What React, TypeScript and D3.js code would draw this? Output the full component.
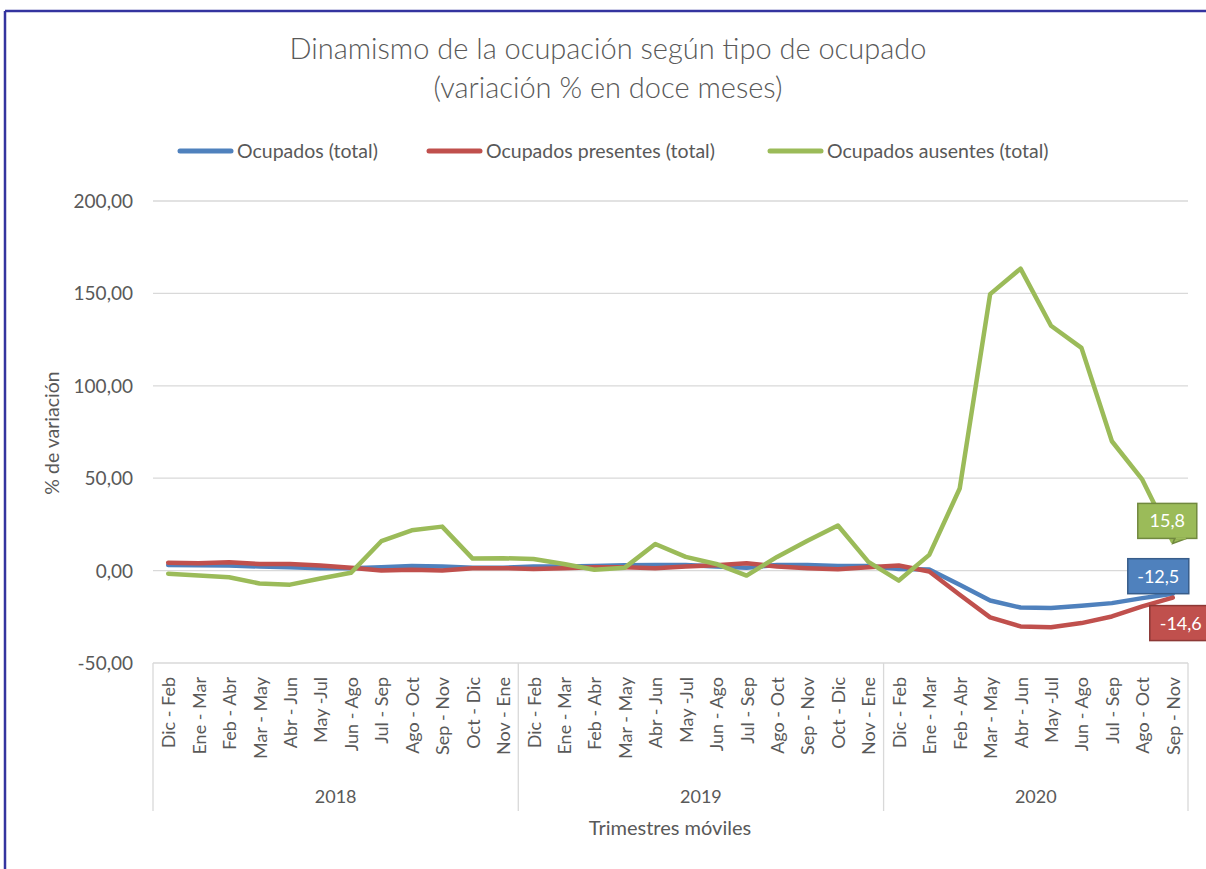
import React from "react";
import * as d3 from "d3";

const categories: string[] = [
  "Dic - Feb", "Ene - Mar", "Feb - Abr", "Mar - May", "Abr - Jun", "May -Jul",
  "Jun - Ago", "Jul - Sep", "Ago - Oct", "Sep - Nov", "Oct - Dic", "Nov - Ene",
  "Dic - Feb", "Ene - Mar", "Feb - Abr", "Mar - May", "Abr - Jun", "May -Jul",
  "Jun - Ago", "Jul - Sep", "Ago - Oct", "Sep - Nov", "Oct - Dic", "Nov - Ene",
  "Dic - Feb", "Ene - Mar", "Feb - Abr", "Mar - May", "Abr - Jun", "May -Jul",
  "Jun - Ago", "Jul - Sep", "Ago - Oct", "Sep - Nov",
];

const years: string[] = ["2018", "2019", "2020"];
const yearCounts: number[] = [12, 12, 10];

const ocupados: number[] = [
  3.0, 2.9, 2.7, 2.2, 1.8, 1.3, 1.3, 1.8, 2.5, 2.2, 1.6, 1.6,
  2.2, 2.2, 2.5, 2.9, 3.0, 3.0, 2.2, 1.6, 3.0, 3.0, 2.5, 2.5,
  0.9, 0.6, -7.7, -16.2, -20.0, -20.3, -19.0, -17.6, -14.9, -12.5,
];

const presentes: number[] = [
  4.3, 4.0, 4.5, 3.6, 3.6, 2.7, 1.6, 0.0, 0.4, 0.0, 1.3, 1.3,
  0.9, 1.3, 1.8, 1.8, 1.3, 2.2, 2.9, 4.0, 2.2, 1.3, 0.7, 1.8,
  2.8, -0.5, -13.1, -25.3, -30.2, -30.7, -28.4, -24.8, -19.4, -14.6,
];

const ausentes: number[] = [
  -1.7, -2.7, -3.6, -7.0, -7.6, -4.3, -1.2, 15.9, 21.8, 23.8, 6.5, 6.7,
  6.3, 3.6, 0.5, 1.6, 14.4, 7.4, 3.6, -2.7, 7.4, 16.2, 24.4, 4.7,
  -5.4, 8.5, 44.4, 149.6, 163.4, 132.5, 120.5, 70.0, 49.2, 15.8,
];

const seriesNames: string[] = ["Ocupados (total)", "Ocupados presentes (total)", "Ocupados ausentes (total)"];
const seriesColors: string[] = ["#4f81bd", "#c0504d", "#9bbb59"];
const labelBorders: string[] = ["#385d8a", "#8c3836", "#71893f"];
const yTicks: number[] = [-50, 0, 50, 100, 150, 200];

const W = 1206;
const H = 869;
const FONT = "Lato, 'Open Sans', sans-serif";
const TEXT = "#595959";

export default function App() {
  const left = 153;
  const right = 1188;
  const x = d3.scaleBand<number>().domain(d3.range(categories.length)).range([left, right]);
  const cx = (i: number) => (x(i) as number) + x.bandwidth() / 2;
  const y = d3.scaleLinear().domain([-50, 200]).range([663, 201]);
  const fmt = (v: number) => d3.format(".2f")(v).replace(".", ",").replace("\u2212", "-");
  const fmt1 = (v: number) => d3.format(".1f")(v).replace(".", ",").replace("\u2212", "-");

  const series = [ocupados, presentes, ausentes];
  const line = d3
    .line<number>()
    .x((_, i) => cx(i))
    .y((d) => y(d));

  const yearBounds: number[] = [0];
  yearCounts.forEach((c, i) => yearBounds.push(yearBounds[i] + c));
  const bx = (i: number) => (i >= categories.length ? right : (x(i) as number));

  const last = categories.length - 1;
  const lx = cx(last);

  const labelBoxes = [
    { s: 0, x: lx - 45, y: y(ocupados[last]) - 35, w: 61, h: 35 },
    { s: 1, x: lx - 23, y: y(presentes[last]) + 8, w: 62, h: 35 },
    { s: 2, x: lx - 35, y: y(ausentes[last]) - 38, w: 59, h: 35 },
  ];

  const legendItems = [
    { sx: 178, tx: 237 },
    { sx: 427, tx: 486 },
    { sx: 768, tx: 827 },
  ];

  return (
    <svg
      width={W}
      height={H}
      style={{ position: "absolute", left: 0, top: 0, background: "#fff" }}
      fontFamily={FONT}
    >
      <rect x={0} y={0} width={W} height={H} fill="#fff" />
      <line x1={5} y1={11} x2={W} y2={11} stroke="#34349f" strokeWidth={2.5} />
      <line x1={5} y1={11} x2={5} y2={H} stroke="#34349f" strokeWidth={2.5} />

      {/* title */}
      <text x={608} y={59} textAnchor="middle" fontSize={29} fontWeight={300} fill={TEXT}>
        Dinamismo de la ocupación según tipo de ocupado
      </text>
      <text x={608} y={98} textAnchor="middle" fontSize={29} fontWeight={300} fill={TEXT}>
        (variación % en doce meses)
      </text>

      {/* legend */}
      {legendItems.map((l, i) => (
        <g key={i}>
          <line x1={l.sx + 2} x2={l.sx + 53} y1={151} y2={151} stroke={seriesColors[i]} strokeWidth={5} strokeLinecap="round" />
          <text x={l.tx} y={158} fontSize={19.5} fill={TEXT}>
            {seriesNames[i]}
          </text>
        </g>
      ))}

      {/* gridlines */}
      {yTicks.map((t) => (
        <g key={t}>
          <line x1={left} x2={right} y1={y(t)} y2={y(t)} stroke="#d9d9d9" strokeWidth={1.3} />
          <text x={133} y={y(t) + 7} textAnchor="end" fontSize={19} fill={TEXT}>
            {fmt(t)}
          </text>
        </g>
      ))}

      {/* y title */}
      <text
        transform={`translate(59,${433}) rotate(-90)`}
        textAnchor="middle"
        fontSize={19.5}
        fill={TEXT}
      >
        % de variación
      </text>

      {/* category axis */}
      {yearBounds.map((b, i) => (
        <line key={i} x1={bx(b)} x2={bx(b)} y1={663} y2={811} stroke="#d9d9d9" strokeWidth={1.3} />
      ))}
      {categories.map((c, i) => (
        <text
          key={i}
          transform={`translate(${cx(i) + 7},${677}) rotate(-90)`}
          textAnchor="end"
          fontSize={18}
          fill={TEXT}
        >
          {c}
        </text>
      ))}
      {years.map((yr, i) => (
        <text
          key={yr}
          x={(bx(yearBounds[i]) + bx(yearBounds[i + 1])) / 2}
          y={803}
          textAnchor="middle"
          fontSize={18}
          fill={TEXT}
        >
          {yr}
        </text>
      ))}
      <text x={670} y={835} textAnchor="middle" fontSize={20} fill={TEXT}>
        Trimestres móviles
      </text>

      {/* lines */}
      {series.map((s, i) => (
        <path
          key={i}
          d={line(s) as string}
          fill="none"
          stroke={seriesColors[i]}
          strokeWidth={4.5}
          strokeLinejoin="round"
          strokeLinecap="round"
        />
      ))}

      {/* data labels */}
      {labelBoxes.map((b) => {
        const v = series[b.s][last];
        return (
          <g key={b.s}>
            {b.s === 2 && (
              <path
                d={`M${b.x + b.w - 22},${b.y + b.h} L${lx},${y(v) + 2} L${b.x + b.w - 10},${b.y + b.h} Z`}
                fill={seriesColors[2]}
                stroke={labelBorders[2]}
                strokeWidth={1.5}
              />
            )}
            <rect x={b.x} y={b.y} width={b.w} height={b.h} fill={seriesColors[b.s]} stroke={labelBorders[b.s]} strokeWidth={1.5} />
            {b.s === 2 && (
              <line x1={b.x + b.w - 21} x2={b.x + b.w - 11} y1={b.y + b.h} y2={b.y + b.h} stroke={seriesColors[2]} strokeWidth={2} />
            )}
            <text x={b.x + b.w / 2} y={b.y + b.h / 2 + 6.5} textAnchor="middle" fontSize={18} fill="#fff">
              {fmt1(v)}
            </text>
          </g>
        );
      })}
    </svg>
  );
}
